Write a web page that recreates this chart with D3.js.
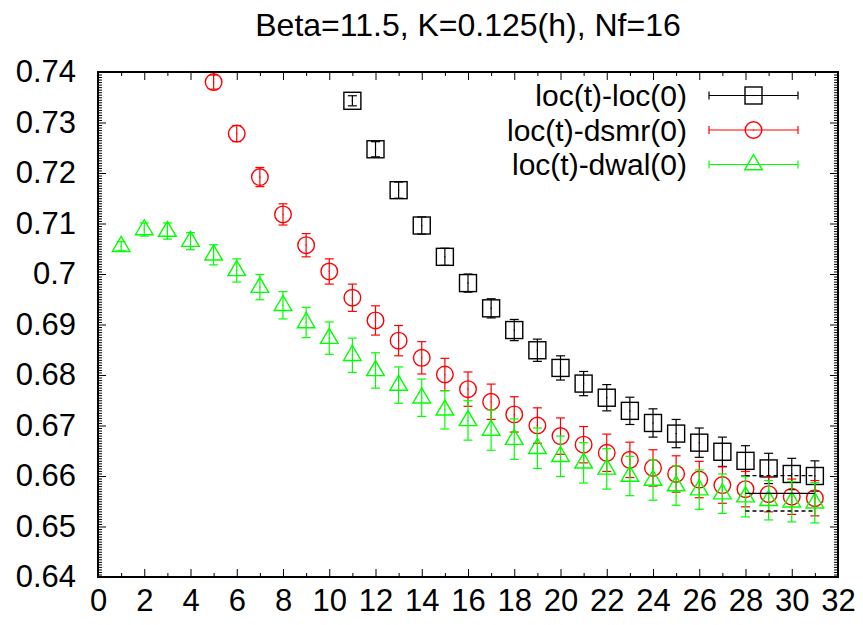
<!DOCTYPE html>
<html>
<head>
<meta charset="utf-8">
<script src="https://cdn.jsdelivr.net/npm/d3@7"></script>
<style>
  html, body { margin: 0; padding: 0; background: #fff; }
  svg { display: block; }
  text { font-family: "Liberation Sans", Arial, Helvetica, sans-serif; fill: #000; }
</style>
</head>
<body>
<svg id="chart" width="863" height="625"></svg>
<script>
// ---- data ----
const title = "Beta=11.5, K=0.125(h), Nf=16";
const seriesNames = ["loc(t)-loc(0)", "loc(t)-dsmr(0)", "loc(t)-dwal(0)"];
const seriesColors = ["#000000", "#ff0000", "#00ff00"];

const tLoc = d3.range(11, 32);
const locVals = [0.7343, 0.7247, 0.7166, 0.7096, 0.7034, 0.6982, 0.6932, 0.6889, 0.6849, 0.6814,
                 0.6783, 0.6755, 0.6729, 0.6705, 0.6684, 0.6666, 0.6648, 0.6630, 0.6615, 0.6604, 0.6600];
const locErr  = [0.0010, 0.0015, 0.0016, 0.0017, 0.0017, 0.0018, 0.0019, 0.0021, 0.0022, 0.0024,
                 0.0024, 0.0026, 0.0027, 0.0028, 0.0028, 0.0029, 0.0029, 0.0030, 0.0030, 0.0031, 0.0030];

const tDsmr = d3.range(5, 32);
const dsmrVals = [0.7380, 0.7278, 0.7192, 0.7118, 0.7057, 0.7005, 0.6953, 0.6908, 0.6868, 0.6834,
                  0.6801, 0.6772, 0.6747, 0.6722, 0.6700, 0.6679, 0.6662, 0.6646, 0.6632, 0.6616,
                  0.6604, 0.6593, 0.6582, 0.6574, 0.6564, 0.6559, 0.6556];
const dsmrErr  = [0.0014, 0.0016, 0.0019, 0.0021, 0.0023, 0.0025, 0.0027, 0.0029, 0.0030, 0.0032,
                  0.0032, 0.0034, 0.0035, 0.0035, 0.0035, 0.0036, 0.0036, 0.0037, 0.0035, 0.0036,
                  0.0036, 0.0036, 0.0036, 0.0035, 0.0035, 0.0035, 0.0035];

const tDwal = d3.range(1, 32);
const dwalVals = [0.7055, 0.7088, 0.7085, 0.7065, 0.7038, 0.7007, 0.6974, 0.6938, 0.6904, 0.6873,
                  0.6839, 0.6809, 0.6780, 0.6755, 0.6731, 0.6710, 0.6691, 0.6673, 0.6655, 0.6639,
                  0.6626, 0.6614, 0.6600, 0.6592, 0.6581, 0.6573, 0.6565, 0.6559, 0.6552, 0.6549, 0.6547];
const dwalErr  = [0.0009, 0.0013, 0.0016, 0.0017, 0.0020, 0.0023, 0.0025, 0.0027, 0.0030, 0.0032,
                  0.0034, 0.0035, 0.0036, 0.0037, 0.0038, 0.0039, 0.0040, 0.0040, 0.0040, 0.0040,
                  0.0040, 0.0040, 0.0039, 0.0040, 0.0039, 0.0039, 0.0039, 0.0040, 0.0039, 0.0040, 0.0040];

// plateau fit (t = 28..31)
const fitRange = [28, 31];
const fitValue = 0.65657;
const fitBand = [0.65307, 0.66006];

const xTickValues = d3.range(0, 33, 2);
const xMinorValues = d3.range(1, 32, 2);
const yTickValues = [0.64, 0.65, 0.66, 0.67, 0.68, 0.69, 0.70, 0.71, 0.72, 0.73, 0.74];
const yTickLabels = ["0.64", "0.65", "0.66", "0.67", "0.68", "0.69", "0.7", "0.71", "0.72", "0.73", "0.74"];

// ---- layout ----
const svg = d3.select("#chart");
const L = 98, R = 838, T = 72, B = 577;
const x = d3.scaleLinear().domain([0, 32]).range([L, R]);
const y = d3.scaleLinear().domain([0.64, 0.74]).range([B, T]);

const FONT = 31;

// title
svg.append("text").attr("x", (L + R) / 2).attr("y", 36)
  .attr("text-anchor", "middle").attr("font-size", 32).text(title);

// minor y ticks (every 0.0005)
const yMinor = d3.range(0, 201).map(i => 0.64 + i * 0.0005).filter((v, i) => i % 20 !== 0);

const gx = svg.append("g").attr("transform", `translate(0,${B})`)
  .call(d3.axisBottom(x).tickValues(xTickValues).tickSize(-8).tickPadding(12).tickFormat(d3.format("d")));
const gxm = svg.append("g").attr("transform", `translate(0,${B})`)
  .call(d3.axisBottom(x).tickValues(xMinorValues).tickSize(-4).tickFormat(""));
const gxt = svg.append("g").attr("transform", `translate(0,${T})`)
  .call(d3.axisTop(x).tickValues(xTickValues).tickSize(-8).tickFormat(""));
const gxtm = svg.append("g").attr("transform", `translate(0,${T})`)
  .call(d3.axisTop(x).tickValues(xMinorValues).tickSize(-4).tickFormat(""));

const gy = svg.append("g").attr("transform", `translate(${L},0)`)
  .call(d3.axisLeft(y).tickValues(yTickValues).tickSize(-8).tickPadding(22)
    .tickFormat((d, i) => yTickLabels[i]));
const gym = svg.append("g").attr("transform", `translate(${L},0)`)
  .call(d3.axisLeft(y).tickValues(yMinor).tickSize(-4).tickFormat(""));
const gyr = svg.append("g").attr("transform", `translate(${R},0)`)
  .call(d3.axisRight(y).tickValues(yTickValues).tickSize(-8).tickFormat(""));
const gyrm = svg.append("g").attr("transform", `translate(${R},0)`)
  .call(d3.axisRight(y).tickValues(yMinor).tickSize(-4).tickFormat(""));

[gx, gxm, gxt, gxtm, gy, gym, gyr, gyrm].forEach(g => {
  g.select(".domain").remove();
  g.selectAll(".tick line").attr("stroke", "#000").attr("stroke-width", 1);
  g.selectAll("text").attr("font-size", FONT)
    .attr("font-family", '"Liberation Sans", Arial, Helvetica, sans-serif').attr("fill", "#000");
});
gx.selectAll("text").attr("dy", "0.71em");

// frame
svg.append("rect").attr("x", L).attr("y", T).attr("width", R - L).attr("height", B - T)
  .attr("fill", "none").attr("stroke", "#000").attr("stroke-width", 2);

// ---- series ----
const plot = svg.append("g");
const cap = 4.5;

function errorBars(ts, vals, errs, color) {
  const g = plot.append("g").attr("stroke", color).attr("stroke-width", 1.2).attr("fill", "none");
  ts.forEach((t, i) => {
    const cx = x(t), y1 = y(vals[i] + errs[i]), y0 = y(vals[i] - errs[i]);
    g.append("line").attr("x1", cx).attr("x2", cx).attr("y1", y1).attr("y2", y0);
    g.append("line").attr("x1", cx - cap).attr("x2", cx + cap).attr("y1", y1).attr("y2", y1);
    g.append("line").attr("x1", cx - cap).attr("x2", cx + cap).attr("y1", y0).attr("y2", y0);
  });
}

function marker(g, kind, cx, cy, color) {
  if (kind === 0) {
    g.append("rect").attr("x", cx - 8.5).attr("y", cy - 8.5).attr("width", 17).attr("height", 17)
      .attr("fill", "none").attr("stroke", color).attr("stroke-width", 1.4);
  } else if (kind === 1) {
    g.append("circle").attr("cx", cx).attr("cy", cy).attr("r", 8.3)
      .attr("fill", "none").attr("stroke", color).attr("stroke-width", 1.4);
  } else {
    g.append("path").attr("d", `M${cx},${cy - 9.8}L${cx + 8.8},${cy + 5.2}L${cx - 8.8},${cy + 5.2}Z`)
      .attr("fill", "none").attr("stroke", color).attr("stroke-width", 1.4);
  }
  g.append("rect").attr("x", cx - 0.6).attr("y", cy - 0.6).attr("width", 1.2).attr("height", 1.2)
    .attr("fill", color);
}

function points(ts, vals, kind, color) {
  const g = plot.append("g");
  ts.forEach((t, i) => marker(g, kind, x(t), y(vals[i]), color));
}

errorBars(tLoc, locVals, locErr, seriesColors[0]);
points(tLoc, locVals, 0, seriesColors[0]);
errorBars(tDsmr, dsmrVals, dsmrErr, seriesColors[1]);
points(tDsmr, dsmrVals, 1, seriesColors[1]);
errorBars(tDwal, dwalVals, dwalErr, seriesColors[2]);
points(tDwal, dwalVals, 2, seriesColors[2]);

// fit lines
plot.append("line").attr("x1", x(fitRange[0])).attr("x2", x(fitRange[1]))
  .attr("y1", y(fitValue)).attr("y2", y(fitValue)).attr("stroke", "#000").attr("stroke-width", 1.3);
fitBand.forEach(v => {
  plot.append("line").attr("x1", x(fitRange[0])).attr("x2", x(fitRange[1]))
    .attr("y1", y(v)).attr("y2", y(v)).attr("stroke", "#000").attr("stroke-width", 1.3)
    .attr("stroke-dasharray", "4,3");
});

// ---- legend ----
const legRows = [95.5, 130, 164.5];
const leg = svg.append("g");
seriesNames.forEach((name, i) => {
  const ly = legRows[i];
  leg.append("text").attr("x", 687).attr("y", ly).attr("dy", "0.36em")
    .attr("text-anchor", "end").attr("font-size", 30).text(name);
  const c = seriesColors[i];
  const gl = leg.append("g").attr("stroke", c).attr("stroke-width", 1.2);
  gl.append("line").attr("x1", 709).attr("x2", 798).attr("y1", ly).attr("y2", ly);
  gl.append("line").attr("x1", 709).attr("x2", 709).attr("y1", ly - 4).attr("y2", ly + 4);
  gl.append("line").attr("x1", 798).attr("x2", 798).attr("y1", ly - 4).attr("y2", ly + 4);
  marker(leg, i, 753.5, ly, c);
});
</script>
</body>
</html>
